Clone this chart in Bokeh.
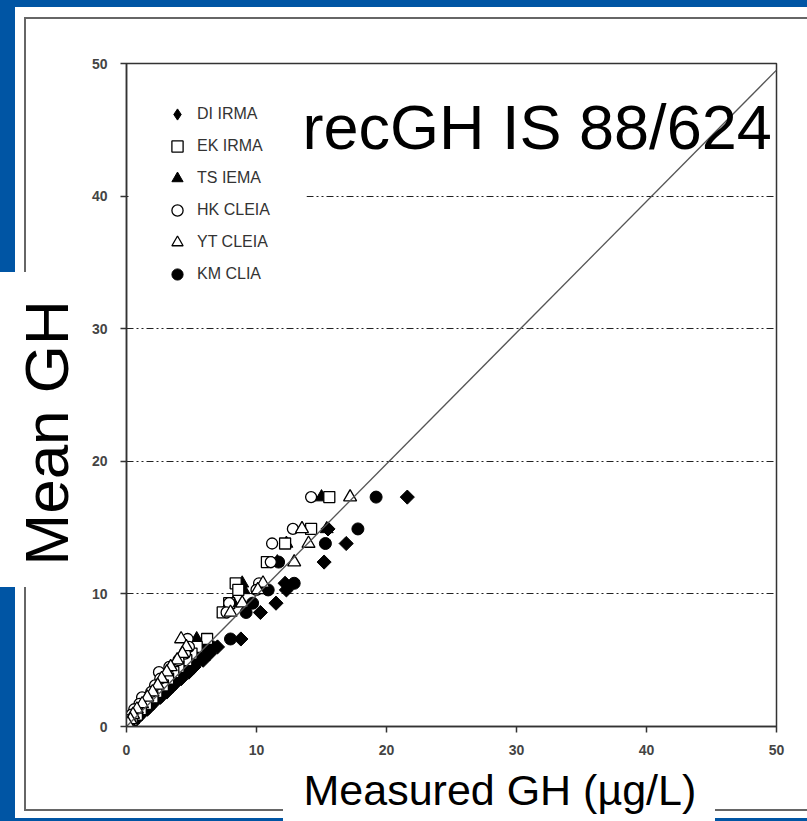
import math
from bokeh.plotting import figure
from bokeh.models import (Legend, LegendItem, Label, BoxAnnotation, FixedTicker,
                          Range1d, Title)
from bokeh.embed import file_html
from bokeh.resources import INLINE

# Mean GH of each sample (shared y value for every assay)
mean_gh = [17.3, 14.9, 13.8, 12.4, 10.8, 10.3, 9.3, 8.6, 6.6, 6.0, 5.5, 5.0,
           4.5, 4.1, 3.6, 3.1, 2.6, 2.2, 1.7, 1.3, 0.9, 0.5, 0.2]

# Measured GH (ug/L) by each assay for the same samples
di_irma = [21.6, 15.5, 16.9, 15.2, 12.2, 12.3, 11.5, 10.3, 8.8, 7.0, 6.4, 5.9,
           5.2, 4.8, 4.2, 3.6, 3.1, 2.6, 2.0, 1.6, 1.1, 0.7, 0.3]
ek_irma = [15.6, 14.2, 12.2, 10.8, 8.4, 8.6, 7.9, 7.4, 6.2, 5.4, 5.0, 4.6,
           4.0, 3.6, 3.2, 2.8, 2.3, 2.0, 1.5, 1.1, 0.8, 0.4, 0.2]
ts_iema = [15.0, 15.4, 12.3, 11.6, 8.9, 9.0, 8.2, 7.5, 5.4, 5.8, 5.3, 4.9,
           4.4, 3.9, 3.5, 3.0, 2.5, 2.1, 1.6, 1.2, 0.8, 0.5, 0.2]
hk_cleia = [14.2, 12.8, 11.2, 11.1, 10.2, 10.0, 7.9, 7.7, 4.7, 4.8, 4.5, 4.0,
            3.3, 2.5, 2.6, 2.2, 1.9, 1.2, 1.0, 0.6, 0.4, 0.2, 0.1]
yt_cleia = [17.2, 13.5, 14.0, 12.9, 10.5, 10.1, 8.9, 8.0, 4.2, 4.6, 4.3, 3.9,
            3.4, 3.1, 2.7, 2.4, 2.0, 1.6, 1.2, 0.8, 0.5, 0.3, 0.1]
km_clia = [19.2, 17.8, 15.3, 11.7, 12.9, 10.9, 9.7, 9.2, 8.0, 6.6, 6.0, 5.5,
           5.0, 4.5, 4.0, 3.5, 2.9, 2.5, 1.9, 1.5, 1.0, 0.6, 0.3]

# reference line
line_x = [0, 50]
line_y = [0, 49.5]

ticks = [0, 10, 20, 30, 40, 50]
grid_ticks = [10, 20, 30, 40]

W, H = 807, 821
FL, FR, FT, FB = 126, 776, 63, 726  # frame edges in canvas pixels

# slide decoration behind the canvas: blue frame and thin grey border,
# left open where the axis captions sit
BLUE, GREY = "#0055a4", "#666666"
deco = [
    (0, 0, W, 7, BLUE),
    (0, 0, 15, 272, BLUE), (0, 587, 15, H - 587, BLUE),
    (0, 818, 283, 3, BLUE), (715, 818, W - 715, 3, BLUE),
    (25, 17, W - 25, 2, GREY),
    (24, 17, 2, 255, GREY), (24, 587, 2, 224, GREY),
    (25, 809, 258, 2, GREY), (715, 809, W - 715, 2, GREY),
]
layers = [f"linear-gradient({c},{c}) {x}px {y}px / {w}px {h}px no-repeat"
          for x, y, w, h, c in deco]
background_css = ", ".join(layers) + ", #ffffff"

p = figure(width=W, height=H, output_backend="svg", toolbar_location=None,
           x_range=Range1d(0, 50), y_range=Range1d(0, 50),
           min_border_left=FL, min_border_right=W - FR,
           min_border_top=FT, min_border_bottom=H - FB,
           styles={"background": background_css})
p.background_fill_color = "white"
p.border_fill_color = "white"
p.border_fill_alpha = 0
p.outline_line_color = "#333333"
p.outline_line_width = 1.5

p.xgrid.visible = False
p.ygrid.ticker = FixedTicker(ticks=grid_ticks)
p.ygrid.grid_line_color = "#222222"
p.ygrid.grid_line_width = 1
p.ygrid.grid_line_dash = "7 3 2 3 2 3"

for ax in (p.xaxis[0], p.yaxis[0]):
    ax.ticker = FixedTicker(ticks=ticks)
    ax.axis_line_color = "#333333"
    ax.axis_line_width = 1.5
    ax.major_tick_line_color = "#333333"
    ax.major_tick_line_width = 1.5
    ax.major_tick_out = 6
    ax.major_tick_in = 0
    ax.minor_tick_out = 0
    ax.minor_tick_in = 0
    ax.major_label_text_font = "Liberation Sans"
    ax.major_label_text_font_size = "14px"
    ax.major_label_text_font_style = "bold"
    ax.major_label_text_color = "#444444"
p.xaxis.major_label_standoff = 12
p.yaxis.major_label_standoff = 13

# assays: filled first, open markers on top
r_di = p.scatter(di_irma, mean_gh, marker="square", angle=math.pi / 4, size=10,
                 fill_color="black", line_color="black")
r_km = p.scatter(km_clia, mean_gh, marker="circle", size=12,
                 fill_color="black", line_color="black")
r_ts = p.scatter(ts_iema, mean_gh, marker="triangle", size=13,
                 fill_color="black", line_color="black")
r_ek = p.scatter(ek_irma, mean_gh, marker="square", size=11,
                 fill_color="white", line_color="black", line_width=1.3)
r_hk = p.scatter(hk_cleia, mean_gh, marker="circle", size=11,
                 fill_color="white", line_color="black", line_width=1.3)
r_yt = p.scatter(yt_cleia, mean_gh, marker="triangle", size=13,
                 fill_color="white", line_color="black", line_width=1.3)
# diamond swatch for the key (hidden in the plot itself)
r_di_key = p.scatter(di_irma, mean_gh, marker="diamond", size=14,
                     fill_color="black", line_color="black", visible=False)

p.line(line_x, line_y, line_color="#555555", line_width=1.3)


def dx(px):
    return (px - FL) / (FR - FL) * 50


def dy(py):
    return (FB - py) / (FB - FT) * 50


# white panel behind the key
p.add_layout(BoxAnnotation(left=dx(128), right=dx(306), top=dy(65), bottom=dy(292),
                           fill_color="white", fill_alpha=1, line_color=None,
                           level="annotation"))

p.add_layout(Label(x=dx(302), y=dy(126), text="recGH IS 88/624",
                   text_align="left", text_baseline="alphabetic",
                   text_font="Liberation Sans", text_font_size="63px",
                   text_color="black"))

p.add_layout(Title(text="Mean GH", align="left", offset=161, standoff=16,
                   text_font="Liberation Sans", text_font_size="62px",
                   text_font_style="normal", text_color="black"), "left")
p.add_layout(Title(text="Measured GH (µg/L)", align="left", offset=177, standoff=12,
                   text_font="Liberation Sans", text_font_size="43px",
                   text_font_style="normal", text_color="black"), "below")

legend = Legend(items=[
    LegendItem(label="DI IRMA", renderers=[r_di_key]),
    LegendItem(label="EK IRMA", renderers=[r_ek]),
    LegendItem(label="TS IEMA", renderers=[r_ts]),
    LegendItem(label="HK CLEIA", renderers=[r_hk]),
    LegendItem(label="YT CLEIA", renderers=[r_yt]),
    LegendItem(label="KM CLIA", renderers=[r_km]),
], location="top_left")
legend.margin = 37
legend.padding = 0
legend.spacing = 4
legend.glyph_height = 28
legend.glyph_width = 28
legend.label_height = 28
legend.label_standoff = 6
legend.label_text_font = "Liberation Sans"
legend.label_text_font_size = "16px"
legend.label_text_color = "#333333"
legend.background_fill_color = "white"
legend.background_fill_alpha = 1
legend.border_line_color = None
legend.inactive_fill_alpha = 0
p.add_layout(legend)

open("out.html", "w").write(file_html(p, INLINE))
